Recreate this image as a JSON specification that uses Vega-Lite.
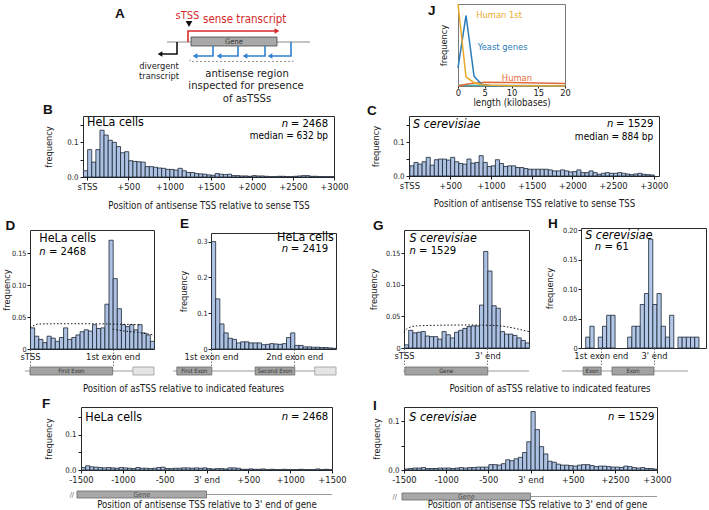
{
"$schema":"https://vega.github.io/schema/vega-lite/v6.json",
"background":"white",
"padding":0,
"spacing":0,
"bounds":"flush",
"config":{
 "font":"DejaVu Sans Condensed, DejaVu Sans",
 "view":{"stroke":null},
 "axis":{"domain":false,"grid":false,"labelFlush":false,"labelOverlap":false,"labelBound":false,"labelFontSize":9.3,"labelColor":"#1a1a1a","titleFontSize":9.6,"titleFontWeight":"normal","titleColor":"#1a1a1a","tickColor":"#1a1a1a","tickSize":3,"labelPadding":2},
 "axisY":{"labelFontSize":7.8,"titleFontSize":9.2},
 "title":{"font":"Liberation Sans","fontSize":13.5,"fontWeight":"bold","anchor":"start","frame":"group","baseline":"alphabetic","color":"#111"}
},
"datasets":{
 "B":[{"a":-50,"b":0,"f":0.018},{"a":0,"b":50,"f":0.079},{"a":50,"b":100,"f":0.043},{"a":100,"b":150,"f":0.079},{"a":150,"b":200,"f":0.135},{"a":200,"b":250,"f":0.121},{"a":250,"b":300,"f":0.106},{"a":300,"b":350,"f":0.1},{"a":350,"b":400,"f":0.088},{"a":400,"b":450,"f":0.07},{"a":450,"b":500,"f":0.073},{"a":500,"b":550,"f":0.047},{"a":550,"b":600,"f":0.045},{"a":600,"b":650,"f":0.044},{"a":650,"b":700,"f":0.043},{"a":700,"b":750,"f":0.03},{"a":750,"b":800,"f":0.03},{"a":800,"b":850,"f":0.028},{"a":850,"b":900,"f":0.026},{"a":900,"b":950,"f":0.025},{"a":950,"b":1000,"f":0.022},{"a":1000,"b":1050,"f":0.022},{"a":1050,"b":1100,"f":0.02},{"a":1100,"b":1150,"f":0.025},{"a":1150,"b":1200,"f":0.018},{"a":1200,"b":1250,"f":0.013},{"a":1250,"b":1300,"f":0.013},{"a":1300,"b":1350,"f":0.01},{"a":1350,"b":1400,"f":0.009},{"a":1400,"b":1450,"f":0.008},{"a":1450,"b":1500,"f":0.006},{"a":1500,"b":1550,"f":0.005},{"a":1550,"b":1600,"f":0.01},{"a":1600,"b":1650,"f":0.008},{"a":1650,"b":1700,"f":0.007},{"a":1700,"b":1750,"f":0.008},{"a":1750,"b":1800,"f":0.004},{"a":1800,"b":1850,"f":0.004},{"a":1850,"b":1900,"f":0.003},{"a":1900,"b":1950,"f":0.003},{"a":1950,"b":2000,"f":0.002},{"a":2000,"b":2050,"f":0.004},{"a":2050,"b":2100,"f":0.003},{"a":2100,"b":2150,"f":0.003},{"a":2150,"b":2200,"f":0.002},{"a":2200,"b":2250,"f":0.001},{"a":2250,"b":2300,"f":0.001},{"a":2300,"b":2350,"f":0.002},{"a":2350,"b":2400,"f":0.002},{"a":2400,"b":2450,"f":0.001},{"a":2450,"b":2500,"f":0.001},{"a":2500,"b":2550,"f":0.002},{"a":2550,"b":2600,"f":0.003},{"a":2600,"b":2650,"f":0.004},{"a":2650,"b":2700,"f":0.004},{"a":2700,"b":2750,"f":0.002},{"a":2750,"b":2800,"f":0.002},{"a":2800,"b":2850,"f":0.001},{"a":2850,"b":2900,"f":0.001},{"a":2900,"b":2950,"f":0.001},{"a":2950,"b":3000,"f":0.001}],
 "C":[{"a":0,"b":50,"f":0.03},{"a":50,"b":100,"f":0.04},{"a":100,"b":150,"f":0.035},{"a":150,"b":200,"f":0.042},{"a":200,"b":250,"f":0.055},{"a":250,"b":300,"f":0.032},{"a":300,"b":350,"f":0.048},{"a":350,"b":400,"f":0.05},{"a":400,"b":450,"f":0.05},{"a":450,"b":500,"f":0.047},{"a":500,"b":550,"f":0.055},{"a":550,"b":600,"f":0.042},{"a":600,"b":650,"f":0.037},{"a":650,"b":700,"f":0.035},{"a":700,"b":750,"f":0.05},{"a":750,"b":800,"f":0.038},{"a":800,"b":850,"f":0.04},{"a":850,"b":900,"f":0.06},{"a":900,"b":950,"f":0.04},{"a":950,"b":1000,"f":0.028},{"a":1000,"b":1050,"f":0.03},{"a":1050,"b":1100,"f":0.048},{"a":1100,"b":1150,"f":0.037},{"a":1150,"b":1200,"f":0.028},{"a":1200,"b":1250,"f":0.03},{"a":1250,"b":1300,"f":0.03},{"a":1300,"b":1350,"f":0.025},{"a":1350,"b":1400,"f":0.025},{"a":1400,"b":1450,"f":0.022},{"a":1450,"b":1500,"f":0.02},{"a":1500,"b":1550,"f":0.02},{"a":1550,"b":1600,"f":0.02},{"a":1600,"b":1650,"f":0.02},{"a":1650,"b":1700,"f":0.02},{"a":1700,"b":1750,"f":0.018},{"a":1750,"b":1800,"f":0.015},{"a":1800,"b":1850,"f":0.015},{"a":1850,"b":1900,"f":0.018},{"a":1900,"b":1950,"f":0.015},{"a":1950,"b":2000,"f":0.012},{"a":2000,"b":2050,"f":0.013},{"a":2050,"b":2100,"f":0.018},{"a":2100,"b":2150,"f":0.01},{"a":2150,"b":2200,"f":0.01},{"a":2200,"b":2250,"f":0.015},{"a":2250,"b":2300,"f":0.01},{"a":2300,"b":2350,"f":0.005},{"a":2350,"b":2400,"f":0.008},{"a":2400,"b":2450,"f":0.01},{"a":2450,"b":2500,"f":0.008},{"a":2500,"b":2550,"f":0.008},{"a":2550,"b":2600,"f":0.01},{"a":2600,"b":2650,"f":0.008},{"a":2650,"b":2700,"f":0.006},{"a":2700,"b":2750,"f":0.004},{"a":2750,"b":2800,"f":0.006},{"a":2800,"b":2850,"f":0.008},{"a":2850,"b":2900,"f":0.005},{"a":2900,"b":2950,"f":0.004},{"a":2950,"b":3000,"f":0.003}],
 "D":[{"a":0,"b":1,"f":0.033},{"a":1,"b":2,"f":0.02},{"a":2,"b":3,"f":0.015},{"a":3,"b":4,"f":0.01},{"a":4,"b":5,"f":0.02},{"a":5,"b":6,"f":0.017},{"a":6,"b":7,"f":0.012},{"a":7,"b":8,"f":0.018},{"a":8,"b":9,"f":0.033},{"a":9,"b":10,"f":0.015},{"a":10,"b":11,"f":0.018},{"a":11,"b":12,"f":0.022},{"a":12,"b":13,"f":0.027},{"a":13,"b":14,"f":0.03},{"a":14,"b":15,"f":0.028},{"a":15,"b":16,"f":0.038},{"a":16,"b":17,"f":0.032},{"a":17,"b":18,"f":0.033},{"a":18,"b":19,"f":0.07},{"a":19,"b":20,"f":0.17},{"a":20,"b":21,"f":0.11},{"a":21,"b":22,"f":0.063},{"a":22,"b":23,"f":0.038},{"a":23,"b":24,"f":0.035},{"a":24,"b":25,"f":0.038},{"a":25,"b":26,"f":0.03},{"a":26,"b":27,"f":0.038},{"a":27,"b":28,"f":0.025},{"a":28,"b":29,"f":0.022},{"a":29,"b":30,"f":0.012}],
 "E":[{"a":0,"b":1,"f":0.3},{"a":1,"b":2,"f":0.14},{"a":2,"b":3,"f":0.07},{"a":3,"b":4,"f":0.045},{"a":4,"b":5,"f":0.03},{"a":5,"b":6,"f":0.027},{"a":6,"b":7,"f":0.017},{"a":7,"b":8,"f":0.02},{"a":8,"b":9,"f":0.02},{"a":9,"b":10,"f":0.017},{"a":10,"b":11,"f":0.017},{"a":11,"b":12,"f":0.017},{"a":12,"b":13,"f":0.012},{"a":13,"b":14,"f":0.013},{"a":14,"b":15,"f":0.015},{"a":15,"b":16,"f":0.014},{"a":16,"b":17,"f":0.013},{"a":17,"b":18,"f":0.015},{"a":18,"b":19,"f":0.032},{"a":19,"b":20,"f":0.045},{"a":20,"b":21,"f":0.01},{"a":21,"b":22,"f":0.01},{"a":22,"b":23,"f":0.006},{"a":23,"b":24,"f":0.006},{"a":24,"b":25,"f":0.005},{"a":25,"b":26,"f":0.005},{"a":26,"b":27,"f":0.004},{"a":27,"b":28,"f":0.004},{"a":28,"b":29,"f":0.003},{"a":29,"b":30,"f":0.002}],
 "G":[{"a":0,"b":1,"f":0.005},{"a":1,"b":2,"f":0.028},{"a":2,"b":3,"f":0.024},{"a":3,"b":4,"f":0.025},{"a":4,"b":5,"f":0.026},{"a":5,"b":6,"f":0.019},{"a":6,"b":7,"f":0.018},{"a":7,"b":8,"f":0.018},{"a":8,"b":9,"f":0.014},{"a":9,"b":10,"f":0.026},{"a":10,"b":11,"f":0.021},{"a":11,"b":12,"f":0.016},{"a":12,"b":13,"f":0.025},{"a":13,"b":14,"f":0.028},{"a":14,"b":15,"f":0.031},{"a":15,"b":16,"f":0.034},{"a":16,"b":17,"f":0.035},{"a":17,"b":18,"f":0.035},{"a":18,"b":19,"f":0.068},{"a":19,"b":20,"f":0.153},{"a":20,"b":21,"f":0.122},{"a":21,"b":22,"f":0.067},{"a":22,"b":23,"f":0.063},{"a":23,"b":24,"f":0.026},{"a":24,"b":25,"f":0.022},{"a":25,"b":26,"f":0.022},{"a":26,"b":27,"f":0.02},{"a":27,"b":28,"f":0.016},{"a":28,"b":29,"f":0.012},{"a":29,"b":30,"f":0.008}],
 "H":[{"a":0,"b":1,"f":0.0185},{"a":1,"b":2,"f":0.037},{"a":3,"b":4,"f":0.0185},{"a":4,"b":5,"f":0.037},{"a":5,"b":6,"f":0.0556},{"a":6,"b":7,"f":0.0556},{"a":10,"b":11,"f":0.0185},{"a":11,"b":12,"f":0.037},{"a":12,"b":13,"f":0.037},{"a":13,"b":14,"f":0.074},{"a":14,"b":15,"f":0.0926},{"a":15,"b":16,"f":0.185},{"a":16,"b":17,"f":0.074},{"a":17,"b":18,"f":0.0926},{"a":18,"b":19,"f":0.037},{"a":19,"b":20,"f":0.0185},{"a":20,"b":21,"f":0.0556},{"a":22,"b":23,"f":0.0185},{"a":23,"b":24,"f":0.0185},{"a":24,"b":25,"f":0.0185},{"a":25,"b":26,"f":0.0185},{"a":26,"b":27,"f":0.0185}],
 "F":[{"a":-1500,"b":-1450,"f":0.007},{"a":-1450,"b":-1400,"f":0.012},{"a":-1400,"b":-1350,"f":0.009},{"a":-1350,"b":-1300,"f":0.008},{"a":-1300,"b":-1250,"f":0.007},{"a":-1250,"b":-1200,"f":0.006},{"a":-1200,"b":-1150,"f":0.007},{"a":-1150,"b":-1100,"f":0.006},{"a":-1100,"b":-1050,"f":0.005},{"a":-1050,"b":-1000,"f":0.007},{"a":-1000,"b":-950,"f":0.006},{"a":-950,"b":-900,"f":0.005},{"a":-900,"b":-850,"f":0.004},{"a":-850,"b":-800,"f":0.007},{"a":-800,"b":-750,"f":0.005},{"a":-750,"b":-700,"f":0.005},{"a":-700,"b":-650,"f":0.004},{"a":-650,"b":-600,"f":0.005},{"a":-600,"b":-550,"f":0.007},{"a":-550,"b":-500,"f":0.008},{"a":-500,"b":-450,"f":0.004},{"a":-450,"b":-400,"f":0.004},{"a":-400,"b":-350,"f":0.005},{"a":-350,"b":-300,"f":0.005},{"a":-300,"b":-250,"f":0.006},{"a":-250,"b":-200,"f":0.006},{"a":-200,"b":-150,"f":0.005},{"a":-150,"b":-100,"f":0.006},{"a":-100,"b":-50,"f":0.005},{"a":-50,"b":0,"f":0.006},{"a":0,"b":50,"f":0.004},{"a":50,"b":100,"f":0.003},{"a":100,"b":150,"f":0.004},{"a":150,"b":200,"f":0.004},{"a":200,"b":250,"f":0.003},{"a":250,"b":300,"f":0.006},{"a":300,"b":350,"f":0.006},{"a":350,"b":400,"f":0.005},{"a":400,"b":450,"f":0.002},{"a":450,"b":500,"f":0.002},{"a":500,"b":550,"f":0.003},{"a":550,"b":600,"f":0.002},{"a":600,"b":650,"f":0.002},{"a":650,"b":700,"f":0.003},{"a":700,"b":750,"f":0.001},{"a":750,"b":800,"f":0.002},{"a":800,"b":850,"f":0.001},{"a":850,"b":900,"f":0.001},{"a":900,"b":950,"f":0.002},{"a":950,"b":1000,"f":0.001},{"a":1000,"b":1050,"f":0.001},{"a":1050,"b":1100,"f":0.001},{"a":1100,"b":1150,"f":0.002},{"a":1150,"b":1200,"f":0.001},{"a":1200,"b":1250,"f":0.001},{"a":1250,"b":1300,"f":0.001},{"a":1300,"b":1350,"f":0.003},{"a":1350,"b":1400,"f":0.001},{"a":1400,"b":1450,"f":0.002},{"a":1450,"b":1500,"f":0.001}],
 "I":[{"a":-1500,"b":-1450,"f":0.002},{"a":-1450,"b":-1400,"f":0.003},{"a":-1400,"b":-1350,"f":0.004},{"a":-1350,"b":-1300,"f":0.004},{"a":-1300,"b":-1250,"f":0.005},{"a":-1250,"b":-1200,"f":0.003},{"a":-1200,"b":-1150,"f":0.003},{"a":-1150,"b":-1100,"f":0.003},{"a":-1100,"b":-1050,"f":0.004},{"a":-1050,"b":-1000,"f":0.004},{"a":-1000,"b":-950,"f":0.004},{"a":-950,"b":-900,"f":0.003},{"a":-900,"b":-850,"f":0.004},{"a":-850,"b":-800,"f":0.005},{"a":-800,"b":-750,"f":0.004},{"a":-750,"b":-700,"f":0.005},{"a":-700,"b":-650,"f":0.005},{"a":-650,"b":-600,"f":0.006},{"a":-600,"b":-550,"f":0.006},{"a":-550,"b":-500,"f":0.006},{"a":-500,"b":-450,"f":0.011},{"a":-450,"b":-400,"f":0.011},{"a":-400,"b":-350,"f":0.01},{"a":-350,"b":-300,"f":0.013},{"a":-300,"b":-250,"f":0.021},{"a":-250,"b":-200,"f":0.019},{"a":-200,"b":-150,"f":0.023},{"a":-150,"b":-100,"f":0.026},{"a":-100,"b":-50,"f":0.036},{"a":-50,"b":0,"f":0.058},{"a":0,"b":50,"f":0.12},{"a":50,"b":100,"f":0.083},{"a":100,"b":150,"f":0.048},{"a":150,"b":200,"f":0.033},{"a":200,"b":250,"f":0.018},{"a":250,"b":300,"f":0.016},{"a":300,"b":350,"f":0.012},{"a":350,"b":400,"f":0.01},{"a":400,"b":450,"f":0.01},{"a":450,"b":500,"f":0.009},{"a":500,"b":550,"f":0.008},{"a":550,"b":600,"f":0.01},{"a":600,"b":650,"f":0.011},{"a":650,"b":700,"f":0.011},{"a":700,"b":750,"f":0.009},{"a":750,"b":800,"f":0.007},{"a":800,"b":850,"f":0.008},{"a":850,"b":900,"f":0.008},{"a":900,"b":950,"f":0.007},{"a":950,"b":1000,"f":0.006},{"a":1000,"b":1050,"f":0.006},{"a":1050,"b":1100,"f":0.005},{"a":1100,"b":1150,"f":0.008},{"a":1150,"b":1200,"f":0.007},{"a":1200,"b":1250,"f":0.005},{"a":1250,"b":1300,"f":0.004},{"a":1300,"b":1350,"f":0.005},{"a":1350,"b":1400,"f":0.003},{"a":1400,"b":1450,"f":0.003},{"a":1450,"b":1500,"f":0.002}],
 "J":[{"s":"Human 1st","x":0,"y":1.0},{"s":"Human 1st","x":1.5,"y":0.11},{"s":"Human 1st","x":3,"y":0.04},{"s":"Human 1st","x":4.5,"y":0.015},{"s":"Human 1st","x":6,"y":0.008},{"s":"Human 1st","x":10,"y":0.004},{"s":"Human 1st","x":20,"y":0.001},
      {"s":"Yeast genes","x":0,"y":0.22},{"s":"Yeast genes","x":1.5,"y":0.86},{"s":"Yeast genes","x":3,"y":0.12},{"s":"Yeast genes","x":4.4,"y":0.02},{"s":"Yeast genes","x":6,"y":0.004},{"s":"Yeast genes","x":20,"y":0.0},
      {"s":"Human","x":0,"y":0.0},{"s":"Human","x":1.5,"y":0.022},{"s":"Human","x":3,"y":0.035},{"s":"Human","x":5,"y":0.045},{"s":"Human","x":10,"y":0.042},{"s":"Human","x":15,"y":0.036},{"s":"Human","x":20,"y":0.03},
      {"s":"Yeast","x":0,"y":0.01},{"s":"Yeast","x":5,"y":0.006},{"s":"Yeast","x":20,"y":0.004}],
 "Ddot":[{"s":1,"a":0,"f":0.033},{"s":1,"a":1,"f":0.037},{"s":1,"a":2,"f":0.039},{"s":1,"a":8,"f":0.0395},{"s":1,"a":14,"f":0.0395},{"s":1,"a":20,"f":0.039},{"s":1,"a":26.5,"f":0.038},{"s":2,"a":20,"f":0.031},{"s":2,"a":23,"f":0.028},{"s":2,"a":26,"f":0.026},{"s":2,"a":30,"f":0.022}],
 "Gdot":[{"s":1,"a":0,"f":0.025},{"s":1,"a":0.6,"f":0.03},{"s":1,"a":1.5,"f":0.033},{"s":1,"a":3,"f":0.035},{"s":1,"a":8,"f":0.036},{"s":1,"a":15,"f":0.0365},{"s":1,"a":20,"f":0.036},{"s":1,"a":23,"f":0.035},{"s":1,"a":26,"f":0.032},{"s":1,"a":28,"f":0.029},{"s":1,"a":30,"f":0.026}],
 "Apath":[{"g":"s","k":"sense","o":0,"x":53,"y":38},{"g":"s","k":"sense","o":1,"x":53,"y":27},{"g":"s","k":"sense","o":2,"x":141,"y":27},
  {"g":"d","k":"divergent","o":0,"x":42,"y":38},{"g":"d","k":"divergent","o":1,"x":42,"y":50},{"g":"d","k":"divergent","o":2,"x":27,"y":50},
  {"g":"a1","k":"antisense","o":0,"x":78,"y":42},{"g":"a1","k":"antisense","o":1,"x":78,"y":52},{"g":"a1","k":"antisense","o":2,"x":62,"y":52},
  {"g":"a2","k":"antisense","o":0,"x":103,"y":42},{"g":"a2","k":"antisense","o":1,"x":103,"y":52},{"g":"a2","k":"antisense","o":2,"x":86,"y":52},
  {"g":"a3","k":"antisense","o":0,"x":130,"y":42},{"g":"a3","k":"antisense","o":1,"x":130,"y":52},{"g":"a3","k":"antisense","o":2,"x":112,"y":52},
  {"g":"a4","k":"antisense","o":0,"x":156,"y":38},{"g":"a4","k":"antisense","o":1,"x":156,"y":52},{"g":"a4","k":"antisense","o":2,"x":137,"y":52}],
 "Ahead":[{"k":"sense","x":142,"y":27},{"k":"divergent","x":25,"y":50},{"k":"antisense","x":60,"y":52},{"k":"antisense","x":84,"y":52},{"k":"antisense","x":110,"y":52},{"k":"antisense","x":135,"y":52},{"k":"marker","x":54,"y":20}]
},
"vconcat":[
 {"columns":2,"spacing":0,"bounds":"flush","align":"each","concat":[
  {"width":135,"height":1,"data":{"values":[]},"mark":"point"},{"width":1,"height":1,"data":{"values":[]},"mark":"point"},{"width":1,"height":1,"data":{"values":[]},"mark":"point"},
  {"width":180,"height":100,
   "title":{"text":"A","dx":-20,"offset":-16.5},
   "layer":[
    {"data":{"values":[{"a":32,"b":175}]},"mark":{"type":"rule","color":"#8a8a8a","strokeWidth":1},
     "encoding":{"x":{"field":"a","type":"quantitative","scale":{"domain":[0,180],"nice":false,"zero":false},"axis":null},"x2":{"field":"b"},"y":{"datum":38,"type":"quantitative","scale":{"domain":[0,100],"reverse":true,"nice":false},"axis":null}}},
    {"data":{"values":[{"a":56,"b":142}]},"mark":{"type":"rect","fill":"#a9a9a9","stroke":"#444","strokeWidth":0.8},
     "encoding":{"x":{"field":"a","type":"quantitative","axis":null},"x2":{"field":"b"},"y":{"datum":33,"axis":null},"y2":{"datum":42}}},
    {"data":{"values":[{"t":"Gene","x":99,"y":37.5}]},"mark":{"type":"text","fontSize":7.5,"color":"#333"},
     "encoding":{"x":{"field":"x","type":"quantitative","axis":null},"y":{"field":"y","type":"quantitative","axis":null},"text":{"field":"t"}}},
    {"data":{"values":[{"o":0,"x":55,"y":55.5},{"o":1,"x":55,"y":57.5},{"o":2,"x":158,"y":57.5},{"o":3,"x":158,"y":55.5}]},"mark":{"type":"line","color":"#9a9a9a","strokeWidth":1,"strokeDash":[2,2]},
     "encoding":{"x":{"field":"x","type":"quantitative","axis":null},"y":{"field":"y","type":"quantitative","axis":null},"order":{"field":"o"}}},
    {"data":{"name":"Apath"},"transform":[{"filter":"datum.k=='sense'"}],"mark":{"type":"line","strokeWidth":1.6,"color":"#d62a2a"},
     "encoding":{"x":{"field":"x","type":"quantitative","axis":null},"y":{"field":"y","type":"quantitative","axis":null},"detail":{"field":"g"},"order":{"field":"o"}}},
    {"data":{"name":"Apath"},"transform":[{"filter":"datum.k=='divergent'"}],"mark":{"type":"line","strokeWidth":1.6,"color":"#111"},
     "encoding":{"x":{"field":"x","type":"quantitative","axis":null},"y":{"field":"y","type":"quantitative","axis":null},"detail":{"field":"g"},"order":{"field":"o"}}},
    {"data":{"name":"Apath"},"transform":[{"filter":"datum.k=='antisense'"}],"mark":{"type":"line","strokeWidth":1.6,"color":"#2f80d0"},
     "encoding":{"x":{"field":"x","type":"quantitative","axis":null},"y":{"field":"y","type":"quantitative","axis":null},"detail":{"field":"g"},"order":{"field":"o"}}},
    {"data":{"name":"Ahead"},"transform":[{"filter":"datum.k=='sense'"}],"mark":{"type":"point","filled":true,"size":30,"opacity":1,"shape":"triangle-right","color":"#d62a2a"},
     "encoding":{"x":{"field":"x","type":"quantitative","axis":null},"y":{"field":"y","type":"quantitative","axis":null}}},
    {"data":{"name":"Ahead"},"transform":[{"filter":"datum.k=='divergent'"}],"mark":{"type":"point","filled":true,"size":30,"opacity":1,"shape":"triangle-left","color":"#111"},
     "encoding":{"x":{"field":"x","type":"quantitative","axis":null},"y":{"field":"y","type":"quantitative","axis":null}}},
    {"data":{"name":"Ahead"},"transform":[{"filter":"datum.k=='antisense'"}],"mark":{"type":"point","filled":true,"size":30,"opacity":1,"shape":"triangle-left","color":"#2f80d0"},
     "encoding":{"x":{"field":"x","type":"quantitative","axis":null},"y":{"field":"y","type":"quantitative","axis":null}}},
    {"data":{"name":"Ahead"},"transform":[{"filter":"datum.k=='marker'"}],"mark":{"type":"point","filled":true,"size":45,"opacity":1,"shape":"triangle-down","color":"#111"},
     "encoding":{"x":{"field":"x","type":"quantitative","axis":null},"y":{"field":"y","type":"quantitative","axis":null}}},
    {"data":{"values":[{"t":"sTSS","x":52.5,"y":12}]},"mark":{"type":"text","fontSize":11,"color":"#d62a2a"},
     "encoding":{"x":{"field":"x","type":"quantitative","axis":null},"y":{"field":"y","type":"quantitative","axis":null},"text":{"field":"t"}}},
    {"data":{"values":[{"t":"sense transcript","x":68,"y":16}]},"mark":{"type":"text","fontSize":11.5,"color":"#d62a2a","align":"left"},
     "encoding":{"x":{"field":"x","type":"quantitative","axis":null},"y":{"field":"y","type":"quantitative","axis":null},"text":{"field":"t"}}},
    {"data":{"values":[{"t":"divergent","x":24,"y":61.5},{"t":"transcript","x":24,"y":72}]},"mark":{"type":"text","fontSize":9.2,"color":"#222"},
     "encoding":{"x":{"field":"x","type":"quantitative","axis":null},"y":{"field":"y","type":"quantitative","axis":null},"text":{"field":"t"}}},
    {"data":{"values":[{"t":"antisense region","x":112,"y":70},{"t":"inspected  for presence","x":111,"y":82},{"t":"of asTSSs","x":112,"y":95}]},"mark":{"type":"text","fontSize":11.2,"color":"#222"},
     "encoding":{"x":{"field":"x","type":"quantitative","axis":null},"y":{"field":"y","type":"quantitative","axis":null},"text":{"field":"t"}}}
   ]}
 ]},
 {"columns":2,"spacing":0,"bounds":"flush","align":"each","concat":[
  {"width":458,"height":1,"data":{"values":[]},"mark":"point"},{"width":1,"height":1,"data":{"values":[]},"mark":"point"},{"width":1,"height":1,"data":{"values":[]},"mark":"point"},
  {"width":107,"height":82,
   "title":{"text":"J","dx":-30,"offset":-16.5},
   "view":{"stroke":"#7a7a7a"},
   "resolve":{"axis":{"x":"independent","y":"independent"}},
   "layer":[
    {"data":{"name":"J"},"transform":[{"filter":"datum.s=='Yeast'"}],"mark":{"type":"line","strokeWidth":1.5,"color":"#4aa89a"},
     "encoding":{
      "x":{"field":"x","type":"quantitative","scale":{"domain":[0,20],"nice":false},"axis":{"values":[0,5,10,15,20],"labelOverlap":false,"title":"length (kilobases)","titleY":16,"titleBaseline":"middle","tickSize":2,"labelPadding":0}},
      "y":{"field":"y","type":"quantitative","scale":{"domain":[0,1]},"axis":{"values":[],"title":"frequency","titlePadding":10,"ticks":false,"labels":false}}}},
    {"data":{"name":"J"},"transform":[{"filter":"datum.s=='Human'"}],"mark":{"type":"line","strokeWidth":1.5,"color":"#e16a3b"},
     "encoding":{"x":{"field":"x","type":"quantitative","axis":null},"y":{"field":"y","type":"quantitative","axis":null}}},
    {"data":{"name":"J"},"transform":[{"filter":"datum.s=='Yeast genes'"}],"mark":{"type":"line","strokeWidth":1.5,"color":"#2a7bb9"},
     "encoding":{"x":{"field":"x","type":"quantitative","axis":null},"y":{"field":"y","type":"quantitative","axis":null}}},
    {"data":{"name":"J"},"transform":[{"filter":"datum.s=='Human 1st'"}],"mark":{"type":"line","strokeWidth":1.5,"color":"#ecaa2c"},
     "encoding":{"x":{"field":"x","type":"quantitative","axis":null},"y":{"field":"y","type":"quantitative","axis":null}}},
    {"data":{"values":[{}]},"mark":{"type":"text","align":"left","baseline":"middle","fontSize":9.3,"color":"#ecaa2c","text":"Human 1st"},"encoding":{"x":{"datum":3.4,"axis":null},"y":{"datum":0.86,"axis":null}}},
    {"data":{"values":[{}]},"mark":{"type":"text","align":"left","baseline":"middle","fontSize":9.3,"color":"#2a7bb9","text":"Yeast genes"},"encoding":{"x":{"datum":3.7,"axis":null},"y":{"datum":0.47,"axis":null}}},
    {"data":{"values":[{}]},"mark":{"type":"text","align":"left","baseline":"middle","fontSize":9.3,"color":"#e16a3b","text":"Human"},"encoding":{"x":{"datum":8.2,"axis":null},"y":{"datum":0.1,"axis":null}}}
   ]}
 ]},
 {"columns":2,"spacing":0,"bounds":"flush","align":"each","concat":[
  {"width":83,"height":113,"data":{"values":[]},"mark":"point"},{"width":1,"height":1,"data":{"values":[]},"mark":"point"},{"width":1,"height":1,"data":{"values":[]},"mark":"point"},
  {"width":251,"height":61,
   "title":{"text":"B","dx":-40,"offset":-0.5},
   "view":{"stroke":"#2a2a2a"},
   "resolve":{"axis":{"x":"independent","y":"independent"}},
   "layer":[
    {"data":{"name":"B"},"mark":{"type":"rect","fill":"#adc2e2","stroke":"#1b2434","strokeWidth":0.8},
     "encoding":{
      "x":{"field":"a","type":"quantitative","bin":"binned","scale":{"domain":[-50,3000],"nice":false,"zero":false},"axis":{"values":[0,500,1000,1500,2000,2500,3000],"labelOverlap":false,"labelExpr":"datum.value==0?'sTSS':'+'+datum.value","title":"Position of antisense TSS relative to sense TSS","titleY":28,"titleBaseline":"middle"}},
      "x2":{"field":"b"},
      "y":{"field":"f","type":"quantitative","scale":{"domain":[0,0.176],"nice":false},"axis":{"values":[0,0.05,0.1,0.15],"labelOverlap":false,"labelExpr":"datum.value==0?'0.0':datum.value==0.1?'0.1':''","title":"frequency","titlePadding":13.3}}}},
    {"data":{"values":[{}]},"mark":{"type":"text","align":"left","baseline":"middle","fontSize":12.4,"text":"HeLa cells"},"encoding":{"x":{"datum":0,"axis":null},"y":{"datum":0.158,"axis":null}}},
    {"data":{"values":[{}]},"mark":{"type":"text","align":"right","baseline":"middle","fontSize":11.2,"text":"= 2468"},"encoding":{"x":{"datum":2928,"axis":null},"y":{"datum":0.152,"axis":null}}},
    {"data":{"values":[{}]},"mark":{"type":"text","align":"right","baseline":"middle","fontSize":11.2,"fontStyle":"italic","text":"n","dx":-40},"encoding":{"x":{"datum":2928,"axis":null},"y":{"datum":0.152,"axis":null}}},
    {"data":{"values":[{}]},"mark":{"type":"text","align":"right","baseline":"middle","fontSize":10,"text":"median = 632 bp"},"encoding":{"x":{"datum":2928,"axis":null},"y":{"datum":0.118,"axis":null}}}
   ]}
 ]},
 {"columns":2,"spacing":0,"bounds":"flush","align":"each","concat":[
  {"width":409,"height":113,"data":{"values":[]},"mark":"point"},{"width":1,"height":1,"data":{"values":[]},"mark":"point"},{"width":1,"height":1,"data":{"values":[]},"mark":"point"},
  {"width":250,"height":60,
   "title":{"text":"C","dx":-42,"offset":-1.5},
   "view":{"stroke":"#2a2a2a"},
   "resolve":{"axis":{"x":"independent","y":"independent"}},
   "layer":[
    {"data":{"name":"C"},"mark":{"type":"rect","fill":"#adc2e2","stroke":"#1b2434","strokeWidth":0.8},
     "encoding":{
      "x":{"field":"a","type":"quantitative","bin":"binned","scale":{"domain":[-5,3065],"nice":false,"zero":false},"axis":{"values":[0,500,1000,1500,2000,2500,3000],"labelOverlap":false,"labelExpr":"datum.value==0?'sTSS':'+'+datum.value","title":"Position of antisense TSS relative to sense TSS","titleY":27,"titleBaseline":"middle"}},
      "x2":{"field":"b"},
      "y":{"field":"f","type":"quantitative","scale":{"domain":[0,0.177],"nice":false},"axis":{"values":[0,0.05,0.1,0.15],"labelOverlap":false,"labelExpr":"datum.value==0?'0.0':datum.value==0.1?'0.1':''","title":"frequency","titlePadding":12.3}}}},
    {"data":{"values":[{}]},"mark":{"type":"text","align":"left","baseline":"middle","fontSize":12.4,"fontStyle":"italic","text":"S cerevisiae"},"encoding":{"x":{"datum":45,"axis":null},"y":{"datum":0.152,"axis":null}}},
    {"data":{"values":[{}]},"mark":{"type":"text","align":"right","baseline":"middle","fontSize":11.2,"text":"= 1529"},"encoding":{"x":{"datum":2995,"axis":null},"y":{"datum":0.152,"axis":null}}},
    {"data":{"values":[{}]},"mark":{"type":"text","align":"right","baseline":"middle","fontSize":11.2,"fontStyle":"italic","text":"n","dx":-40},"encoding":{"x":{"datum":2995,"axis":null},"y":{"datum":0.152,"axis":null}}},
    {"data":{"values":[{}]},"mark":{"type":"text","align":"right","baseline":"middle","fontSize":10,"text":"median = 884 bp"},"encoding":{"x":{"datum":2995,"axis":null},"y":{"datum":0.114,"axis":null}}}
   ]}
 ]},
 {"columns":2,"spacing":0,"bounds":"flush","align":"each","concat":[
  {"width":30,"height":227,"data":{"values":[]},"mark":"point"},{"width":1,"height":1,"data":{"values":[]},"mark":"point"},{"width":1,"height":1,"data":{"values":[]},"mark":"point"},
  {"width":124,"height":119,
   "title":{"text":"D","dx":-24.5,"offset":-2.5},
   "view":{"stroke":"#2a2a2a"},
   "resolve":{"axis":{"x":"independent","y":"independent"}},
   "layer":[
    {"data":{"name":"D"},"mark":{"type":"rect","fill":"#adc2e2","stroke":"#1b2434","strokeWidth":0.8},
     "encoding":{
      "x":{"field":"a","type":"quantitative","bin":"binned","scale":{"domain":[0,30],"nice":false,"zero":false},"axis":{"values":[0,20],"labelOverlap":false,"labelExpr":"datum.value==0?'sTSS':'1st exon end'","tickSize":18,"tickDash":[1.5,1.5],"tickColor":"#777","labelPadding":-15,"title":"Position of asTSS  relative to indicated features","titleX":153,"titleY":39,"titleBaseline":"middle"}},
      "x2":{"field":"b"},
      "y":{"field":"f","type":"quantitative","scale":{"domain":[0,0.186],"nice":false},"axis":{"values":[0,0.05,0.1,0.15],"labelOverlap":false,"labelFontSize":7.2,"labelPadding":1,"labelExpr":"datum.value==0?'0':format(datum.value,'.2f')","title":"frequency","titlePadding":0.5}}}},
    {"data":{"name":"Ddot"},"mark":{"type":"line","color":"#111","strokeWidth":1,"strokeDash":[1.5,2],"interpolate":"monotone"},
     "encoding":{"x":{"field":"a","type":"quantitative","axis":null},"y":{"field":"f","type":"quantitative","axis":null},"detail":{"field":"s","type":"nominal"}}},
    {"data":{"values":[{}]},"mark":{"type":"text","align":"left","baseline":"middle","fontSize":12.4,"text":"HeLa cells"},"encoding":{"x":{"datum":2.25,"axis":null},"y":{"datum":0.173,"axis":null}}},
    {"data":{"values":[{}]},"mark":{"type":"text","align":"left","baseline":"middle","fontSize":11.2,"fontStyle":"italic","text":"n"},"encoding":{"x":{"datum":2.25,"axis":null},"y":{"datum":0.152,"axis":null}}},
    {"data":{"values":[{}]},"mark":{"type":"text","align":"left","baseline":"middle","fontSize":11.2,"text":"= 2468","dx":9.6},"encoding":{"x":{"datum":2.25,"axis":null},"y":{"datum":0.152,"axis":null}}}
   ]}
 ]},
 {"columns":2,"spacing":0,"bounds":"flush","align":"each","concat":[
  {"width":211,"height":230,"data":{"values":[]},"mark":"point"},{"width":1,"height":1,"data":{"values":[]},"mark":"point"},{"width":1,"height":1,"data":{"values":[]},"mark":"point"},
  {"width":125,"height":116,
   "title":{"text":"E","dx":-31,"offset":0.5},
   "view":{"stroke":"#2a2a2a"},
   "resolve":{"axis":{"x":"independent","y":"independent"}},
   "layer":[
    {"data":{"name":"E"},"mark":{"type":"rect","fill":"#adc2e2","stroke":"#1b2434","strokeWidth":0.8},
     "encoding":{
      "x":{"field":"a","type":"quantitative","bin":"binned","scale":{"domain":[0,30],"nice":false,"zero":false},"axis":{"values":[0,20],"labelOverlap":false,"labelExpr":"datum.value==0?'1st exon end':'2nd exon end'","tickSize":18,"tickDash":[1.5,1.5],"tickColor":"#777","labelPadding":-15,"title":null}},
      "x2":{"field":"b"},
      "y":{"field":"f","type":"quantitative","scale":{"domain":[0,0.324],"nice":false},"axis":{"values":[0,0.1,0.2,0.3],"labelOverlap":false,"labelFontSize":7.2,"labelPadding":1,"labelExpr":"datum.value==0?'0':format(datum.value,'.1f')","title":"frequency","titlePadding":8}}}},
    {"data":{"values":[{}]},"mark":{"type":"text","align":"right","baseline":"middle","fontSize":12.4,"text":"HeLa cells"},"encoding":{"x":{"datum":29.5,"axis":null},"y":{"datum":0.312,"axis":null}}},
    {"data":{"values":[{}]},"mark":{"type":"text","align":"right","baseline":"middle","fontSize":11.2,"text":"= 2419"},"encoding":{"x":{"datum":28.1,"axis":null},"y":{"datum":0.279,"axis":null}}},
    {"data":{"values":[{}]},"mark":{"type":"text","align":"right","baseline":"middle","fontSize":11.2,"fontStyle":"italic","text":"n","dx":-40},"encoding":{"x":{"datum":28.1,"axis":null},"y":{"datum":0.279,"axis":null}}}
   ]}
 ]},
 {"columns":2,"spacing":0,"bounds":"flush","align":"each","concat":[
  {"width":404,"height":227,"data":{"values":[]},"mark":"point"},{"width":1,"height":1,"data":{"values":[]},"mark":"point"},{"width":1,"height":1,"data":{"values":[]},"mark":"point"},
  {"width":125,"height":118,
   "title":{"text":"G","dx":-31,"offset":-2.5},
   "view":{"stroke":"#2a2a2a"},
   "resolve":{"axis":{"x":"independent","y":"independent"}},
   "layer":[
    {"data":{"name":"G"},"mark":{"type":"rect","fill":"#adc2e2","stroke":"#1b2434","strokeWidth":0.8},
     "encoding":{
      "x":{"field":"a","type":"quantitative","bin":"binned","scale":{"domain":[0,30],"nice":false,"zero":false},"axis":{"values":[0,20],"labelOverlap":false,"labelExpr":"datum.value==0?'sTSS':\"3' end\"","tickSize":18,"tickDash":[1.5,1.5],"tickColor":"#777","labelPadding":-15,"title":"Position of asTSS  relative to indicated features","titleX":145.5,"titleY":40,"titleBaseline":"middle"}},
      "x2":{"field":"b"},
      "y":{"field":"f","type":"quantitative","scale":{"domain":[0,0.187],"nice":false},"axis":{"values":[0,0.05,0.1,0.15],"labelOverlap":false,"labelFontSize":7.2,"labelPadding":1,"labelExpr":"datum.value==0?'0':format(datum.value,'.2f')","title":"frequency","titlePadding":7}}}},
    {"data":{"name":"Gdot"},"mark":{"type":"line","color":"#111","strokeWidth":1,"strokeDash":[1.5,2],"interpolate":"monotone"},
     "encoding":{"x":{"field":"a","type":"quantitative","axis":null},"y":{"field":"f","type":"quantitative","axis":null},"detail":{"field":"s","type":"nominal"}}},
    {"data":{"values":[{}]},"mark":{"type":"text","align":"left","baseline":"middle","fontSize":12.4,"fontStyle":"italic","text":"S cerevisiae"},"encoding":{"x":{"datum":1.3,"axis":null},"y":{"datum":0.175,"axis":null}}},
    {"data":{"values":[{}]},"mark":{"type":"text","align":"left","baseline":"middle","fontSize":11.2,"fontStyle":"italic","text":"n"},"encoding":{"x":{"datum":1.3,"axis":null},"y":{"datum":0.153,"axis":null}}},
    {"data":{"values":[{}]},"mark":{"type":"text","align":"left","baseline":"middle","fontSize":11.2,"text":"= 1529","dx":9.6},"encoding":{"x":{"datum":1.3,"axis":null},"y":{"datum":0.153,"axis":null}}}
   ]}
 ]},
 {"columns":2,"spacing":0,"bounds":"flush","align":"each","concat":[
  {"width":581,"height":225,"data":{"values":[]},"mark":"point"},{"width":1,"height":1,"data":{"values":[]},"mark":"point"},{"width":1,"height":1,"data":{"values":[]},"mark":"point"},
  {"width":125,"height":120,
   "title":{"text":"H","dx":-33,"offset":-4.5},
   "view":{"stroke":"#2a2a2a"},
   "resolve":{"axis":{"x":"independent","y":"independent"}},
   "layer":[
    {"data":{"name":"H"},"mark":{"type":"rect","fill":"#b3c7e6","stroke":"#1b2434","strokeWidth":0.8},
     "encoding":{
      "x":{"field":"a","type":"quantitative","bin":"binned","scale":{"domain":[-1,28.8],"nice":false,"zero":false},"axis":{"values":[3.73,16.4],"labelOverlap":false,"labelExpr":"datum.value<10?'1st exon end':\"3' end\"","tickSize":18,"tickDash":[1.5,1.5],"tickColor":"#777","labelPadding":-15,"title":null}},
      "x2":{"field":"b"},
      "y":{"field":"f","type":"quantitative","scale":{"domain":[0,0.204],"nice":false},"axis":{"values":[0,0.05,0.1,0.15,0.2],"labelOverlap":false,"labelFontSize":7.2,"labelPadding":1,"labelExpr":"datum.value==0?'0':format(datum.value,'.2f')","title":"frequency","titlePadding":8}}}},
    {"data":{"values":[{}]},"mark":{"type":"text","align":"left","baseline":"middle","fontSize":12.4,"fontStyle":"italic","text":"S cerevisiae"},"encoding":{"x":{"datum":0,"axis":null},"y":{"datum":0.192,"axis":null}}},
    {"data":{"values":[{}]},"mark":{"type":"text","align":"left","baseline":"middle","fontSize":11.2,"fontStyle":"italic","text":"n"},"encoding":{"x":{"datum":2.3,"axis":null},"y":{"datum":0.171,"axis":null}}},
    {"data":{"values":[{}]},"mark":{"type":"text","align":"left","baseline":"middle","fontSize":11.2,"text":"= 61","dx":9.6},"encoding":{"x":{"datum":2.3,"axis":null},"y":{"datum":0.171,"axis":null}}}
   ]}
 ]},
 {"columns":2,"spacing":0,"bounds":"flush","align":"each","concat":[
  {"width":30,"height":364,"data":{"values":[]},"mark":"point"},{"width":1,"height":1,"data":{"values":[]},"mark":"point"},{"width":1,"height":1,"data":{"values":[]},"mark":"point"},
  {"width":124,"height":8,
   "layer":[
    {"data":{"values":[{"a":-1.2,"b":30}]},"mark":{"type":"rule","color":"#9a9a9a","strokeWidth":1},
     "encoding":{"x":{"field":"a","type":"quantitative","scale":{"domain":[0,30],"nice":false,"zero":false},"axis":null},"x2":{"field":"b"},"y":{"datum":0.5,"type":"quantitative","scale":{"domain":[0,1]},"axis":null}}},
    {"data":{"values":[{"a":0,"b":20}]},"mark":{"type":"rect","fill":"#a2a2a2","stroke":"#6a6a6a","strokeWidth":0.8},
     "encoding":{"x":{"field":"a","type":"quantitative","axis":null},"x2":{"field":"b"},"y":{"datum":0,"axis":null},"y2":{"datum":1}}},
    {"data":{"values":[{"a":24.9,"b":30}]},"mark":{"type":"rect","fill":"#e4e4e4","stroke":"#9a9a9a","strokeWidth":0.8},
     "encoding":{"x":{"field":"a","type":"quantitative","axis":null},"x2":{"field":"b"},"y":{"datum":0,"axis":null},"y2":{"datum":1}}},
    {"data":{"values":[{"c":10,"n":"First Exon"}]},"mark":{"type":"text","fontSize":6,"color":"#333"},
     "encoding":{"x":{"field":"c","type":"quantitative","axis":null},"y":{"datum":0.5,"axis":null},"text":{"field":"n"}}}
   ]}
 ]},
 {"columns":2,"spacing":0,"bounds":"flush","align":"each","concat":[
  {"width":211,"height":364,"data":{"values":[]},"mark":"point"},{"width":1,"height":1,"data":{"values":[]},"mark":"point"},{"width":1,"height":1,"data":{"values":[]},"mark":"point"},
  {"width":125,"height":8,
   "layer":[
    {"data":{"values":[{"a":-9.1,"b":30}]},"mark":{"type":"rule","color":"#9a9a9a","strokeWidth":1},
     "encoding":{"x":{"field":"a","type":"quantitative","scale":{"domain":[0,30],"nice":false,"zero":false},"axis":null},"x2":{"field":"b"},"y":{"datum":0.5,"type":"quantitative","scale":{"domain":[0,1]},"axis":null}}},
    {"data":{"values":[{"a":-8.2,"b":0.2},{"a":10.6,"b":20.1}]},"mark":{"type":"rect","fill":"#a2a2a2","stroke":"#6a6a6a","strokeWidth":0.8},
     "encoding":{"x":{"field":"a","type":"quantitative","axis":null},"x2":{"field":"b"},"y":{"datum":0,"axis":null},"y2":{"datum":1}}},
    {"data":{"values":[{"a":24.9,"b":30}]},"mark":{"type":"rect","fill":"#e4e4e4","stroke":"#9a9a9a","strokeWidth":0.8},
     "encoding":{"x":{"field":"a","type":"quantitative","axis":null},"x2":{"field":"b"},"y":{"datum":0,"axis":null},"y2":{"datum":1}}},
    {"data":{"values":[{"c":-4,"n":"First Exon"},{"c":15.35,"n":"Second Exon"}]},"mark":{"type":"text","fontSize":6,"color":"#333"},
     "encoding":{"x":{"field":"c","type":"quantitative","axis":null},"y":{"datum":0.5,"axis":null},"text":{"field":"n"}}}
   ]}
 ]},
 {"columns":2,"spacing":0,"bounds":"flush","align":"each","concat":[
  {"width":404,"height":364,"data":{"values":[]},"mark":"point"},{"width":1,"height":1,"data":{"values":[]},"mark":"point"},{"width":1,"height":1,"data":{"values":[]},"mark":"point"},
  {"width":125,"height":8,
   "layer":[
    {"data":{"values":[{"a":-0.2,"b":30}]},"mark":{"type":"rule","color":"#9a9a9a","strokeWidth":1},
     "encoding":{"x":{"field":"a","type":"quantitative","scale":{"domain":[0,30],"nice":false,"zero":false},"axis":null},"x2":{"field":"b"},"y":{"datum":0.5,"type":"quantitative","scale":{"domain":[0,1]},"axis":null}}},
    {"data":{"values":[{"a":0.2,"b":20.1}]},"mark":{"type":"rect","fill":"#a2a2a2","stroke":"#6a6a6a","strokeWidth":0.8},
     "encoding":{"x":{"field":"a","type":"quantitative","axis":null},"x2":{"field":"b"},"y":{"datum":0,"axis":null},"y2":{"datum":1}}},
    {"data":{"values":[{"c":10.15,"n":"Gene"}]},"mark":{"type":"text","fontSize":6,"color":"#333"},
     "encoding":{"x":{"field":"c","type":"quantitative","axis":null},"y":{"datum":0.5,"axis":null},"text":{"field":"n"}}}
   ]}
 ]},
 {"columns":2,"spacing":0,"bounds":"flush","align":"each","concat":[
  {"width":581,"height":364,"data":{"values":[]},"mark":"point"},{"width":1,"height":1,"data":{"values":[]},"mark":"point"},{"width":1,"height":1,"data":{"values":[]},"mark":"point"},
  {"width":125,"height":8,
   "layer":[
    {"data":{"values":[{"a":-5.5,"b":24.5}]},"mark":{"type":"rule","color":"#9a9a9a","strokeWidth":1},
     "encoding":{"x":{"field":"a","type":"quantitative","scale":{"domain":[-1,28.8],"nice":false,"zero":false},"axis":null},"x2":{"field":"b"},"y":{"datum":0.5,"type":"quantitative","scale":{"domain":[0,1]},"axis":null}}},
    {"data":{"values":[{"a":-0.5,"b":3.8},{"a":6.4,"b":16.4}]},"mark":{"type":"rect","fill":"#a2a2a2","stroke":"#6a6a6a","strokeWidth":0.8},
     "encoding":{"x":{"field":"a","type":"quantitative","axis":null},"x2":{"field":"b"},"y":{"datum":0,"axis":null},"y2":{"datum":1}}},
    {"data":{"values":[{"c":1.65,"n":"Exon"},{"c":11.4,"n":"Exon"}]},"mark":{"type":"text","fontSize":6,"color":"#333"},
     "encoding":{"x":{"field":"c","type":"quantitative","axis":null},"y":{"datum":0.5,"axis":null},"text":{"field":"n"}}}
   ]}
 ]},
 {"columns":2,"spacing":0,"bounds":"flush","align":"each","concat":[
  {"width":81,"height":404,"data":{"values":[]},"mark":"point"},{"width":1,"height":1,"data":{"values":[]},"mark":"point"},{"width":1,"height":1,"data":{"values":[]},"mark":"point"},
  {"width":251,"height":63,
   "title":{"text":"F","dx":-39,"offset":-3.5},
   "view":{"stroke":"#2a2a2a"},
   "resolve":{"axis":{"x":"independent","y":"independent"}},
   "layer":[
    {"data":{"name":"F"},"mark":{"type":"rect","fill":"#adc2e2","stroke":"#1b2434","strokeWidth":0.8},
     "encoding":{
      "x":{"field":"a","type":"quantitative","bin":"binned","scale":{"domain":[-1500,1500],"nice":false,"zero":false},"axis":{"values":[-1500,-1000,-500,0,500,1000,1500],"labelOverlap":false,"labelExpr":"datum.value==0?\"3' end\":datum.value>0?'+'+datum.value:''+datum.value","title":"Position of antisense TSS relative to 3' end of gene","titleY":34,"titleBaseline":"middle"}},
      "x2":{"field":"b"},
      "y":{"field":"f","type":"quantitative","scale":{"domain":[0,0.179],"nice":false},"axis":{"values":[0,0.05,0.1,0.15],"labelOverlap":false,"labelExpr":"datum.value==0?'0.0':datum.value==0.1?'0.1':''","title":"frequency","titlePadding":11.3}}}},
    {"data":{"values":[{}]},"mark":{"type":"text","align":"left","baseline":"middle","fontSize":12.4,"text":"HeLa cells"},"encoding":{"x":{"datum":-1449,"axis":null},"y":{"datum":0.15,"axis":null}}},
    {"data":{"values":[{}]},"mark":{"type":"text","align":"right","baseline":"middle","fontSize":11.2,"text":"= 2468"},"encoding":{"x":{"datum":1455,"axis":null},"y":{"datum":0.15,"axis":null}}},
    {"data":{"values":[{}]},"mark":{"type":"text","align":"right","baseline":"middle","fontSize":11.2,"fontStyle":"italic","text":"n","dx":-40},"encoding":{"x":{"datum":1455,"axis":null},"y":{"datum":0.15,"axis":null}}}
   ]}
 ]},
 {"columns":2,"spacing":0,"bounds":"flush","align":"each","concat":[
  {"width":404,"height":404,"data":{"values":[]},"mark":"point"},{"width":1,"height":1,"data":{"values":[]},"mark":"point"},{"width":1,"height":1,"data":{"values":[]},"mark":"point"},
  {"width":253,"height":63,
   "title":{"text":"I","dx":-31,"offset":-5},
   "view":{"stroke":"#2a2a2a"},
   "resolve":{"axis":{"x":"independent","y":"independent"}},
   "layer":[
    {"data":{"name":"I"},"mark":{"type":"rect","fill":"#adc2e2","stroke":"#1b2434","strokeWidth":0.8},
     "encoding":{
      "x":{"field":"a","type":"quantitative","bin":"binned","scale":{"domain":[-1500,1500],"nice":false,"zero":false},"axis":{"values":[-1500,-1000,-500,0,500,1000,1500],"labelOverlap":false,"labelExpr":"datum.value==0?\"3' end\":datum.value==1000?'+2500':datum.value==1500?'+3000':datum.value>0?'+'+datum.value:''+datum.value","title":"Position of antisense TSS relative to 3' end of gene","titleX":133,"titleY":34,"titleBaseline":"middle"}},
      "x2":{"field":"b"},
      "y":{"field":"f","type":"quantitative","scale":{"domain":[0,0.1295],"nice":false},"axis":{"values":[0,0.05,0.1],"labelOverlap":false,"labelExpr":"datum.value==0?'0.0':datum.value==0.1?'0.1':''","title":"frequency","titlePadding":6.8}}}},
    {"data":{"values":[{}]},"mark":{"type":"text","align":"left","baseline":"middle","fontSize":12.4,"fontStyle":"italic","text":"S cerevisiae"},"encoding":{"x":{"datum":-1437,"axis":null},"y":{"datum":0.109,"axis":null}}},
    {"data":{"values":[{}]},"mark":{"type":"text","align":"right","baseline":"middle","fontSize":11.2,"text":"= 1529"},"encoding":{"x":{"datum":1469,"axis":null},"y":{"datum":0.109,"axis":null}}},
    {"data":{"values":[{}]},"mark":{"type":"text","align":"right","baseline":"middle","fontSize":11.2,"fontStyle":"italic","text":"n","dx":-40},"encoding":{"x":{"datum":1469,"axis":null},"y":{"datum":0.109,"axis":null}}}
   ]}
 ]},
 {"columns":2,"spacing":0,"bounds":"flush","align":"each","concat":[
  {"width":81,"height":488,"data":{"values":[]},"mark":"point"},{"width":1,"height":1,"data":{"values":[]},"mark":"point"},{"width":1,"height":1,"data":{"values":[]},"mark":"point"},
  {"width":251,"height":7,
   "layer":[
    {"data":{"values":[{"a":0,"b":1500}]},"mark":{"type":"rule","color":"#9a9a9a","strokeWidth":1},
     "encoding":{"x":{"field":"a","type":"quantitative","scale":{"domain":[-1500,1500],"nice":false,"zero":false},"axis":null},"x2":{"field":"b"},"y":{"datum":0.5,"type":"quantitative","scale":{"domain":[0,1]},"axis":null}}},
    {"data":{"values":[{"a":-1548,"b":0}]},"mark":{"type":"rect","fill":"#a8a8a8","stroke":"#6a6a6a","strokeWidth":0.8},
     "encoding":{"x":{"field":"a","type":"quantitative","axis":null},"x2":{"field":"b"},"y":{"datum":0,"axis":null},"y2":{"datum":1}}},
    {"data":{"values":[{"c":-774,"n":"Gene"},{"c":-1610,"n":"//"}]},"mark":{"type":"text","fontSize":7,"color":"#555"},
     "encoding":{"x":{"field":"c","type":"quantitative","axis":null},"y":{"datum":0.5,"axis":null},"text":{"field":"n"}}}
   ]}
 ]},
 {"columns":2,"spacing":0,"bounds":"flush","align":"each","concat":[
  {"width":404,"height":490,"data":{"values":[]},"mark":"point"},{"width":1,"height":1,"data":{"values":[]},"mark":"point"},{"width":1,"height":1,"data":{"values":[]},"mark":"point"},
  {"width":253,"height":7,
   "layer":[
    {"data":{"values":[{"a":0,"b":1500}]},"mark":{"type":"rule","color":"#9a9a9a","strokeWidth":1},
     "encoding":{"x":{"field":"a","type":"quantitative","scale":{"domain":[-1500,1500],"nice":false,"zero":false},"axis":null},"x2":{"field":"b"},"y":{"datum":0.5,"type":"quantitative","scale":{"domain":[0,1]},"axis":null}}},
    {"data":{"values":[{"a":-1524,"b":0}]},"mark":{"type":"rect","fill":"#a8a8a8","stroke":"#6a6a6a","strokeWidth":0.8},
     "encoding":{"x":{"field":"a","type":"quantitative","axis":null},"x2":{"field":"b"},"y":{"datum":0,"axis":null},"y2":{"datum":1}}},
    {"data":{"values":[{"c":-762,"n":"Gene"},{"c":-1610,"n":"//"}]},"mark":{"type":"text","fontSize":7,"color":"#555"},
     "encoding":{"x":{"field":"c","type":"quantitative","axis":null},"y":{"datum":0.5,"axis":null},"text":{"field":"n"}}}
   ]}
 ]}
]
}
